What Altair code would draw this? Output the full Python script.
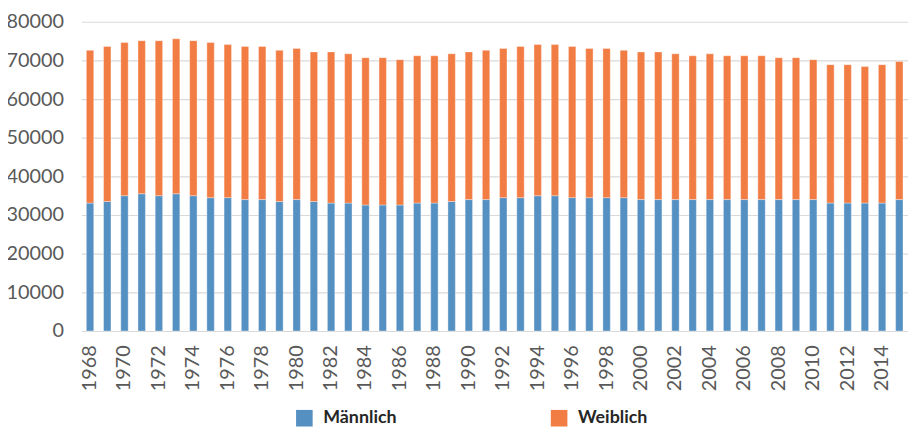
import altair as alt
import pandas as pd

years = [1968, 1969, 1970, 1971, 1972, 1973, 1974, 1975, 1976, 1977,
         1978, 1979, 1980, 1981, 1982, 1983, 1984, 1985, 1986, 1987,
         1988, 1989, 1990, 1991, 1992, 1993, 1994, 1995, 1996, 1997,
         1998, 1999, 2000, 2001, 2002, 2003, 2004, 2005, 2006, 2007,
         2008, 2009, 2010, 2011, 2012, 2013, 2014, 2015]

maennlich = [33100, 33500, 35000, 35500, 35000, 35500, 35000, 34500, 34500, 34000,
             34000, 33500, 34000, 33500, 33100, 33100, 32600, 32600, 32600, 33100,
             33100, 33500, 34000, 34000, 34500, 34500, 35000, 35000, 34500, 34500,
             34500, 34500, 34000, 34000, 34000, 34000, 34000, 34000, 34000, 34000,
             34000, 34000, 34000, 33100, 33100, 33100, 33100, 34000]

gesamt = [72600, 73600, 74600, 75100, 75100, 75600, 75100, 74600, 74100, 73600,
          73600, 72600, 73100, 72200, 72200, 71700, 70700, 70700, 70200, 71200,
          71200, 71700, 72200, 72600, 73100, 73600, 74100, 74100, 73600, 73100,
          73100, 72600, 72200, 72200, 71700, 71200, 71700, 71200, 71200, 71200,
          70700, 70700, 70200, 68900, 68900, 68400, 68900, 69700]

weiblich = [g - m for g, m in zip(gesamt, maennlich)]

series = ["Männlich", "Weiblich"]
colors = ["#5590C3", "#F27D44"]

tick_years = [1968, 1970, 1972, 1974, 1976, 1978, 1980, 1982, 1984, 1986,
              1988, 1990, 1992, 1994, 1996, 1998, 2000, 2002, 2004, 2006,
              2008, 2010, 2012, 2014]
y_ticks = [0, 10000, 20000, 30000, 40000, 50000, 60000, 70000, 80000]

rows = []
for y, m, w in zip(years, maennlich, weiblich):
    rows.append({"Jahr": y, "Geschlecht": "Männlich", "Wert": m, "ord": 0})
    rows.append({"Jahr": y, "Geschlecht": "Weiblich", "Wert": w, "ord": 1})
df = pd.DataFrame(rows)

FONT = "Lato"

chart = alt.Chart(df).mark_bar(
    stroke="#ffffff", strokeOpacity=0.35, strokeWidth=1
).encode(
    x=alt.X("Jahr:O",
            scale=alt.Scale(paddingInner=0.57, paddingOuter=0.29),
            axis=alt.Axis(values=tick_years, labelAngle=-90, ticks=False,
                          domain=False, title=None, labelPadding=14,
                          labelFontSize=20, labelColor="#595959",
                          labelFont=FONT)),
    y=alt.Y("Wert:Q", stack="zero",
            scale=alt.Scale(domain=[0, 80000], nice=False),
            axis=alt.Axis(values=y_ticks, ticks=False, domain=False, title=None,
                          labelPadding=18, labelFontSize=20, labelColor="#595959",
                          labelFont=FONT, gridColor="#D9D9D9", gridWidth=1.2,
                          format="d")),
    color=alt.Color("Geschlecht:N",
                    scale=alt.Scale(domain=series, range=colors),
                    legend=alt.Legend(orient="none", direction="horizontal",
                                      legendX=216, legendY=391, title=None,
                                      symbolType="square", symbolSize=280,
                                      symbolStrokeWidth=0, symbolOpacity=1,
                                      labelFontSize=18, labelFontWeight="bold",
                                      labelColor="#262626", labelFont=FONT,
                                      labelOffset=10, columnPadding=154)),
    order=alt.Order("ord:Q"),
).properties(
    width=834,
    height=312,
    autosize=alt.AutoSizeParams(type="none"),
    padding={"left": 74, "top": 12, "right": 0, "bottom": 96},
).configure_view(stroke=None)

chart.save("out.html", embed_options={"renderer": "svg", "actions": False})
